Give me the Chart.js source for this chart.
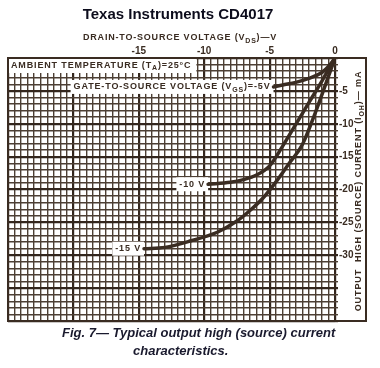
<!DOCTYPE html>
<html><head><meta charset="utf-8">
<script src="https://cdn.jsdelivr.net/npm/chart.js@4.4.1/dist/chart.umd.min.js"></script>
<style>html,body{margin:0;padding:0;background:#fff;}#wrap{width:380px;height:368px;position:relative}</style>
</head><body><div id="wrap"><canvas id="c" width="380" height="368"></canvas></div>
<script>
// ---- data ----
const chartTitle = 'Texas Instruments CD4017';
const xTickLabels = ['-15', '-10', '-5', '0'];
const yTickLabels = ['-5', '-10', '-15', '-20', '-25', '-30'];
const seriesNames = ['VGS = -5 V', 'VGS = -10 V', 'VGS = -15 V'];
const seriesTags = ['-5V', '-10 V', '-15 V'];

const vdsA = [-4.7, -4, -3, -2, -1, -0.5, 0];
const idA  = [-4.4, -4.1, -3.7, -3.1, -2.2, -1.3, 0];

const vdsB = [-9.7, -8, -7, -6, -5, -4, -3, -2, -1, 0];
const idB  = [-19.2, -18.9, -18.5, -17.8, -16.4, -13.4, -10.1, -6.8, -3.5, 0];

const vdsC = [-14.6, -13, -11, -9, -7.5, -6.5, -5.5, -4.5, -3.5, -2.5, -1.5, -0.5, 0];
const idC  = [-29.0, -28.8, -27.8, -26.5, -24.8, -23.2, -21.3, -18.8, -16.0, -13.2, -8.3, -2.8, 0];

const INK = '#3a2c22';
const FAM = '"Liberation Sans", Arial, sans-serif';

function pts(xs, ys){ return xs.map((v,i)=>({x:v, y:ys[i]})); }

function richWidth(ctx, parts, size){
  let w = 0;
  for (const p of parts){ ctx.font = `bold ${p.sub ? Math.round(size*0.78) : size}px ${FAM}`; w += ctx.measureText(p.t).width; }
  return w;
}
function drawRich(ctx, parts, x, y, size){
  let cx = x;
  ctx.textAlign = 'left'; ctx.textBaseline = 'middle';
  for (const p of parts){
    ctx.font = `bold ${p.sub ? Math.round(size*0.78) : size}px ${FAM}`;
    ctx.fillText(p.t, cx, p.sub ? y + size*0.3 : y);
    cx += ctx.measureText(p.t).width;
  }
}

const deco = {
  id: 'deco',
  beforeDatasetsDraw(chart){
    const {ctx, chartArea: a, scales: {x, y}} = chart;
    const ds = chart.data.datasets;
    ctx.save();
    ctx.letterSpacing = '0.85px';
    // ambient temperature box
    const amb = [{t:'AMBIENT TEMPERATURE (T'},{t:'A',sub:true},{t:')=25°C'}];
    const aw = richWidth(ctx, amb, 9);
    ctx.fillStyle = '#fff';
    ctx.fillRect(a.left, a.top, aw + 8, 15);
    ctx.fillStyle = INK;
    drawRich(ctx, amb, a.left + 3, a.top + 7.5, 9);
    // curve tags at the start of each curve
    const tags = [
      [{t:'GATE-TO-SOURCE VOLTAGE (V'},{t:'GS',sub:true},{t:')=' + seriesTags[0]}],
      [{t:seriesTags[1]}],
      [{t:seriesTags[2]}]
    ];
    ds.forEach((d, i) => {
      const p0 = d.data[0];
      const px = x.getPixelForValue(p0.x), py = y.getPixelForValue(p0.y);
      const w = richWidth(ctx, tags[i], 9);
      ctx.fillStyle = '#fff';
      ctx.fillRect(px - w - 6, py - 7, w + 6, 14);
      ctx.fillStyle = INK;
      drawRich(ctx, tags[i], px - w - 3, py, 9);
    });
    ctx.restore();
  },
  afterDraw(chart){
    const {ctx, chartArea: a} = chart;
    ctx.save();
    // frame
    ctx.strokeStyle = INK; ctx.lineWidth = 2;
    ctx.strokeRect(a.left, a.top, 366 - a.left, a.bottom - a.top);
    // title
    ctx.fillStyle = '#0c0c1c';
    ctx.font = `bold 15px ${FAM}`;
    ctx.textAlign = 'center'; ctx.textBaseline = 'middle';
    ctx.fillText(chartTitle, 178, 15);
    // x axis title
    ctx.fillStyle = INK;
    ctx.letterSpacing = '0.8px';
    const xt = [{t:'DRAIN-TO-SOURCE VOLTAGE (V'},{t:'DS',sub:true},{t:')—V'}];
    const xw = richWidth(ctx, xt, 9);
    drawRich(ctx, xt, 180 - xw/2, 38, 9);
    // y axis title (reads bottom to top)
    const yt = [{t:'OUTPUT  HIGH (SOURCE) CURRENT (I'},{t:'OH',sub:true},{t:')— mA'}];
    ctx.letterSpacing = '0.9px';
    const yw = richWidth(ctx, yt, 9);
    ctx.translate(359, 191);
    ctx.rotate(-Math.PI/2);
    drawRich(ctx, yt, -yw/2, 0, 9);
    ctx.setTransform(1,0,0,1,0,0);
    // caption
    ctx.letterSpacing = '0px';
    ctx.fillStyle = '#1a1a2e';
    ctx.font = `italic bold 13px ${FAM}`;
    ctx.textAlign = 'left'; ctx.textBaseline = 'middle';
    ctx.fillText('Fig. 7— Typical output high (source) current', 62, 333);
    ctx.fillText('characteristics.', 133, 351);
    ctx.restore();
  }
};

const lineDs = (label, xs, ys) => ({
  label, data: pts(xs, ys), showLine: true, borderColor: INK, borderWidth: 3.5,
  pointRadius: 0, cubicInterpolationMode: 'monotone', fill: false, borderCapStyle: 'round'
});

new Chart(document.getElementById('c'), {
  type: 'scatter',
  data: { datasets: [
    lineDs(seriesNames[0], vdsA, idA),
    lineDs(seriesNames[1], vdsB, idB),
    lineDs(seriesNames[2], vdsC, idC)
  ]},
  options: {
    responsive: false, animation: false, devicePixelRatio: 1,
    layout: { padding: { top: 0, left: 8, right: 13, bottom: 47 } },
    plugins: { legend: { display: false }, tooltip: { enabled: false } },
    scales: {
      x: {
        type: 'linear', position: 'top', min: -25, max: 0,
        afterFit(s){ s.height = 58; },
        ticks: {
          stepSize: 0.5, maxTicksLimit: 1000, autoSkip: false, maxRotation: 0, padding: 1,
          color: INK, font: { family: FAM, weight: 'bold', size: 10 },
          callback: v => xTickLabels.includes(String(v)) ? String(v) : ''
        },
        grid: { drawTicks: false, color: c => (c.tick && c.tick.value % 5 === 0) ? '#33261d' : '#4d3f34',
                lineWidth: c => (c.tick && c.tick.value % 5 === 0) ? 2.2 : 1.4 },
        border: { display: false }
      },
      y: {
        type: 'linear', position: 'right', min: -40, max: 0,
        afterFit(s){ s.width = 32; },
        ticks: {
          stepSize: 1, maxTicksLimit: 1000, autoSkip: false, padding: 1,
          color: INK, font: { family: FAM, weight: 'bold', size: 10 },
          callback: v => yTickLabels.includes(String(v)) ? String(v) : ''
        },
        grid: { drawTicks: true, tickLength: 3, color: c => (c.tick && c.tick.value % 5 === 0) ? '#33261d' : '#4d3f34',
                lineWidth: c => (c.tick && c.tick.value % 5 === 0) ? 2.2 : 1.4 },
        border: { display: false }
      }
    }
  },
  plugins: [deco]
});
</script></body></html>
